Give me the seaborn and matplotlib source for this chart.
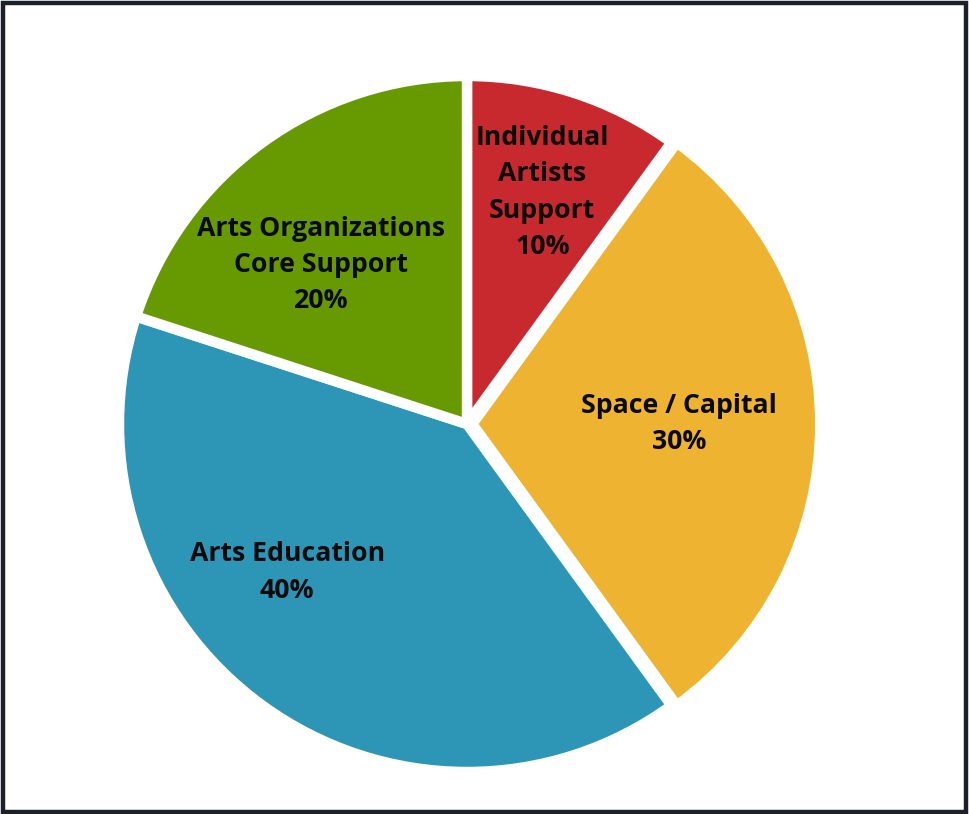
import numpy as np
import matplotlib
matplotlib.use("Agg")
import matplotlib.pyplot as plt
from matplotlib.patches import Rectangle
import seaborn as sns

# Grant allocation by program area
categories = ["Individual\nArtists\nSupport", "Space / Capital", "Arts Education",
              "Arts Organizations\nCore Support"]
shares = [10, 30, 40, 20]
slice_colors = ["#C8292F", "#EEB330", "#2D96B6", "#679A00"]

sns.set_theme(style="white")
plt.rcParams["font.family"] = ["Open Sans", "DejaVu Sans"]

W, H = 969, 814
fig = plt.figure(figsize=(W / 100, H / 100), dpi=100)
fig.patch.set_facecolor("white")

# square axes holding the pie, centre at (467, 424) px, radius 348 px
cx, cy, R = 467, 424, 348
ax = fig.add_axes([(cx - R) / W, (H - cy - R) / H, 2 * R / W, 2 * R / H])

palette = sns.color_palette(slice_colors)
explode = [0, 0.015, 0, 0]
wedges, _ = ax.pie(shares, colors=palette, startangle=90, counterclock=False,
                   explode=explode, radius=1.0,
                   wedgeprops=dict(edgecolor="white", linewidth=7.5))
ax.set_xlim(-1, 1)
ax.set_ylim(-1, 1)
ax.set_aspect("equal")
ax.axis("off")

# label placement: (radial distance, angular shift in degrees) per slice
label_place = [(0.70, 0), (0.595, 0), (0.67, -14.5), (0.62, 6.5)]
for w, cat, pct, (dist, dtheta) in zip(wedges, categories, shares, label_place):
    mid = np.deg2rad((w.theta1 + w.theta2) / 2 + dtheta)
    ox, oy = w.center
    ax.text(ox + dist * np.cos(mid), oy + dist * np.sin(mid),
            f"{cat}\n{pct}%", ha="center", va="center",
            fontsize=19.2, fontweight="bold", color="#0A0A0A",
            linespacing=1.52)

# dark frame round the figure
fig.add_artist(Rectangle((3 / W, 2 / H), (W - 6) / W, (H - 5) / H,
                         transform=fig.transFigure, fill=False,
                         edgecolor="#1C2129", linewidth=3.2))

fig.savefig("out.png", dpi=100, facecolor="white")
